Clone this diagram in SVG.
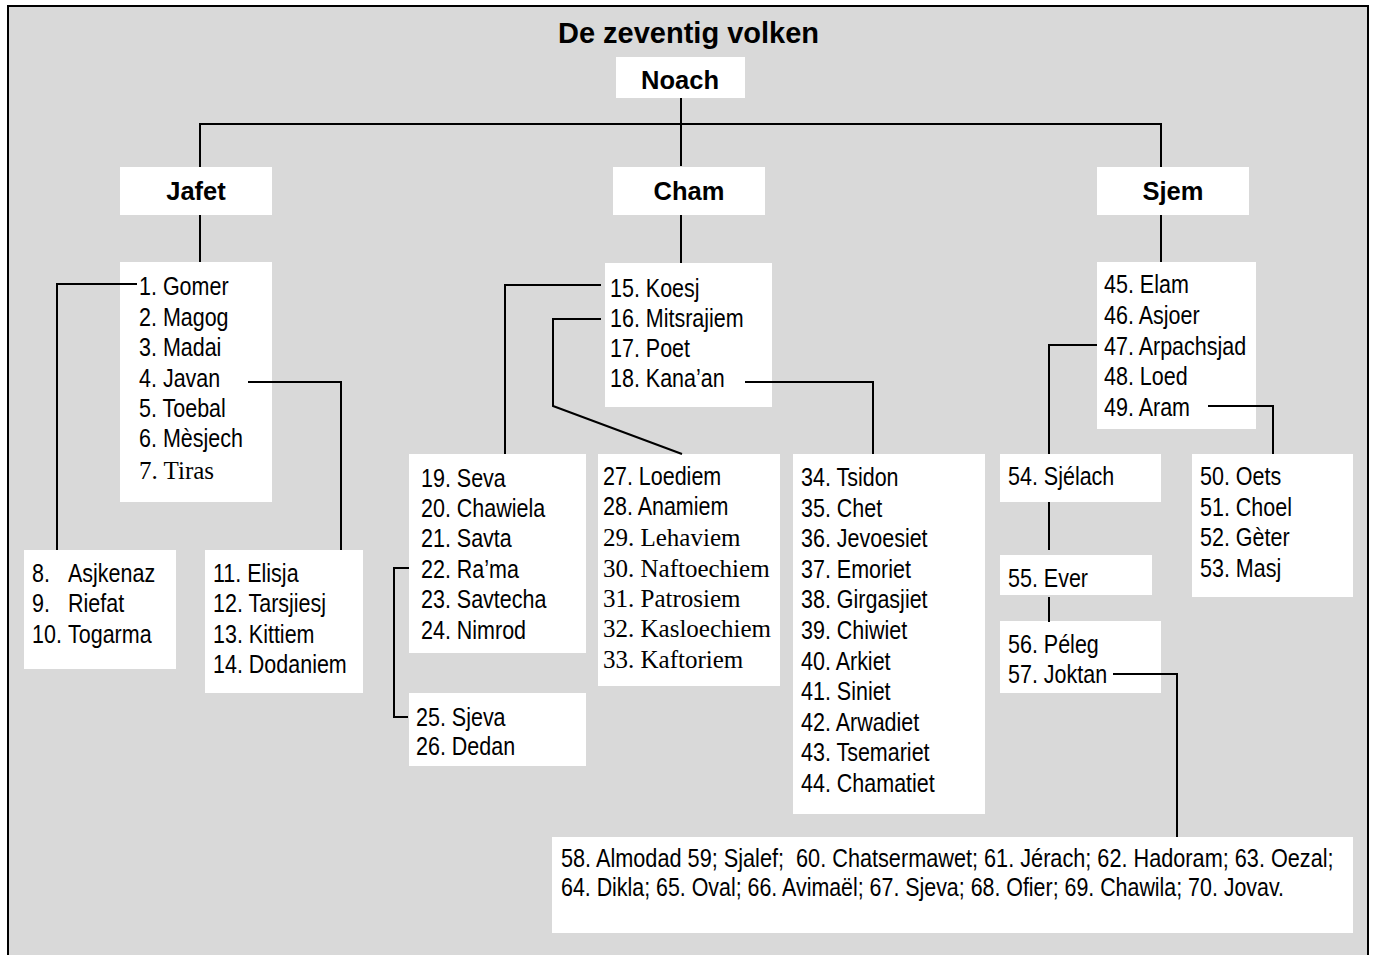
<svg xmlns="http://www.w3.org/2000/svg" width="1374" height="955" viewBox="0 0 1374 955">
<style>
.box{fill:#ffffff;}
.hd{font-family:"Liberation Sans",Arial,sans-serif;font-weight:bold;font-size:25.5px;fill:#000;text-anchor:middle;}
.t{font-family:"Liberation Sans",Arial,sans-serif;font-size:25px;fill:#000;}
.s{font-family:"Liberation Serif","Times New Roman",serif;font-size:25px;fill:#000;}
.c{fill:none;stroke:#000;stroke-width:2;}
</style>
<rect x="0" y="0" width="1374" height="955" fill="#ffffff"/>
<rect x="8" y="6" width="1360" height="965" fill="#d9d9d9" stroke="#000" stroke-width="2"/>
<text x="688.5" y="43" class="hd" style="font-size:29px">De zeventig volken</text>

<g id="noach"><rect class="box" x="616" y="57" width="129" height="41"/><text class="hd" x="680" y="89">Noach</text></g>
<g id="jafet"><rect class="box" x="120" y="167" width="152" height="48"/><text class="hd" x="196" y="200">Jafet</text></g>
<g id="cham"><rect class="box" x="613" y="167" width="152" height="48"/><text class="hd" x="689" y="200">Cham</text></g>
<g id="sjem"><rect class="box" x="1097" y="167" width="152" height="48"/><text class="hd" x="1173" y="200">Sjem</text></g>

<g id="jafet-zonen">
<rect class="box" x="120" y="262" width="152" height="240"/>
<g transform="translate(139 0) scale(0.86 1)" class="t">
<text x="0" y="295">1. Gomer</text>
<text x="0" y="326">2. Magog</text>
<text x="0" y="356">3. Madai</text>
<text x="0" y="387">4. Javan</text>
<text x="0" y="417">5. Toebal</text>
<text x="0" y="447">6. Mèsjech</text>
</g>
<text class="s" x="139" y="479">7. Tiras</text>
</g>

<g id="gomer-zonen">
<rect class="box" x="24" y="550" width="152" height="119"/>
<g transform="translate(32 0) scale(0.86 1)" class="t">
<text y="582"><tspan x="0">8.</tspan><tspan x="41.9">Asjkenaz</tspan></text>
<text y="612"><tspan x="0">9.</tspan><tspan x="41.9">Riefat</tspan></text>
<text y="643"><tspan x="0">10.</tspan><tspan x="41.9">Togarma</tspan></text>
</g>
</g>

<g id="javan-zonen">
<rect class="box" x="205" y="550" width="158" height="143"/>
<g transform="translate(213 0) scale(0.86 1)" class="t">
<text x="0" y="582">11. Elisja</text>
<text x="0" y="612">12. Tarsjiesj</text>
<text x="0" y="643">13. Kittiem</text>
<text x="0" y="673">14. Dodaniem</text>
</g>
</g>

<g id="cham-zonen">
<rect class="box" x="605" y="263" width="167" height="144"/>
<g transform="translate(610 0) scale(0.86 1)" class="t">
<text x="0" y="297">15. Koesj</text>
<text x="0" y="327">16. Mitsrajiem</text>
<text x="0" y="357">17. Poet</text>
<text x="0" y="387">18. Kana’an</text>
</g>
</g>

<g id="koesj-zonen">
<rect class="box" x="409" y="454" width="177" height="199"/>
<g transform="translate(421 0) scale(0.86 1)" class="t">
<text x="0" y="487">19. Seva</text>
<text x="0" y="517">20. Chawiela</text>
<text x="0" y="547">21. Savta</text>
<text x="0" y="578">22. Ra’ma</text>
<text x="0" y="608">23. Savtecha</text>
<text x="0" y="639">24. Nimrod</text>
</g>
</g>

<g id="rama-zonen">
<rect class="box" x="409" y="693" width="177" height="73"/>
<g transform="translate(416 0) scale(0.86 1)" class="t">
<text x="0" y="726">25. Sjeva</text>
<text x="0" y="755">26. Dedan</text>
</g>
</g>

<g id="mitsrajiem-zonen">
<rect class="box" x="598" y="454" width="182" height="232"/>
<g transform="translate(603 0) scale(0.86 1)" class="t">
<text x="0" y="485">27. Loediem</text>
<text x="0" y="515">28. Anamiem</text>
</g>
<text class="s" x="603" y="546">29. Lehaviem</text>
<text class="s" x="603" y="577">30. Naftoechiem</text>
<text class="s" x="603" y="607">31. Patrosiem</text>
<text class="s" x="603" y="637">32. Kasloechiem</text>
<text class="s" x="603" y="668">33. Kaftoriem</text>
</g>

<g id="kanaan-zonen">
<rect class="box" x="793" y="454" width="192" height="360"/>
<g transform="translate(801 0) scale(0.86 1)" class="t">
<text x="0" y="486">34. Tsidon</text>
<text x="0" y="517">35. Chet</text>
<text x="0" y="547">36. Jevoesiet</text>
<text x="0" y="578">37. Emoriet</text>
<text x="0" y="608">38. Girgasjiet</text>
<text x="0" y="639">39. Chiwiet</text>
<text x="0" y="670">40. Arkiet</text>
<text x="0" y="700">41. Siniet</text>
<text x="0" y="731">42. Arwadiet</text>
<text x="0" y="761">43. Tsemariet</text>
<text x="0" y="792">44. Chamatiet</text>
</g>
</g>

<g id="sjem-zonen">
<rect class="box" x="1097" y="262" width="159" height="167"/>
<g transform="translate(1104 0) scale(0.86 1)" class="t">
<text x="0" y="293">45. Elam</text>
<text x="0" y="324">46. Asjoer</text>
<text x="0" y="355">47. Arpachsjad</text>
<text x="0" y="385">48. Loed</text>
<text x="0" y="416">49. Aram</text>
</g>
</g>

<g id="aram-zonen">
<rect class="box" x="1192" y="454" width="161" height="143"/>
<g transform="translate(1200 0) scale(0.86 1)" class="t">
<text x="0" y="485">50. Oets</text>
<text x="0" y="516">51. Choel</text>
<text x="0" y="546">52. Gèter</text>
<text x="0" y="577">53. Masj</text>
</g>
</g>

<g id="sjelach">
<rect class="box" x="1000" y="454" width="161" height="48"/>
<g transform="translate(1008 0) scale(0.86 1)" class="t"><text x="0" y="485">54. Sjélach</text></g>
</g>

<g id="ever">
<rect class="box" x="1000" y="555" width="152" height="40"/>
<g transform="translate(1008 0) scale(0.86 1)" class="t"><text x="0" y="587">55. Ever</text></g>
</g>

<g id="ever-zonen">
<rect class="box" x="1000" y="621" width="161" height="72"/>
<g transform="translate(1008 0) scale(0.86 1)" class="t">
<text x="0" y="653">56. Péleg</text>
<text x="0" y="683">57. Joktan</text>
</g>
</g>

<g id="joktan-zonen">
<rect class="box" x="552" y="837" width="801" height="96"/>
<g transform="translate(561 0) scale(0.868 1)" class="t">
<text x="0" y="867" style="white-space:pre">58. Almodad 59; Sjalef;  60. Chatsermawet; 61. Jérach; 62. Hadoram; 63. Oezal;</text>
</g>
<g transform="translate(561 0) scale(0.856 1)" class="t">
<text x="0" y="896">64. Dikla; 65. Oval; 66. Avimaël; 67. Sjeva; 68. Ofier; 69. Chawila; 70. Jovav.</text>
</g>
</g>

<g id="connectors" class="c">
<path class="c" d="M200,167 V124 H1161 V167"/>
<path class="c" d="M681,98 V166"/>
<path class="c" d="M200,215 V262"/>
<path class="c" d="M681,215 V263"/>
<path class="c" d="M1161,215 V262"/>
<path class="c" d="M137,284 H57 V550"/>
<path class="c" d="M248,382 H341 V550"/>
<path class="c" d="M601,285 H505 V454"/>
<path class="c" d="M601,319 H553 V406 L682,454"/>
<path class="c" d="M745,382 H873 V454"/>
<path class="c" d="M409,568 H394 V717 H408"/>
<path class="c" d="M1097,345 H1049 V454"/>
<path class="c" d="M1049,502 V550"/>
<path class="c" d="M1049,597 V622"/>
<path class="c" d="M1208,406 H1273 V454"/>
<path class="c" d="M1113,674 H1177 V837"/>
</g>
</svg>
